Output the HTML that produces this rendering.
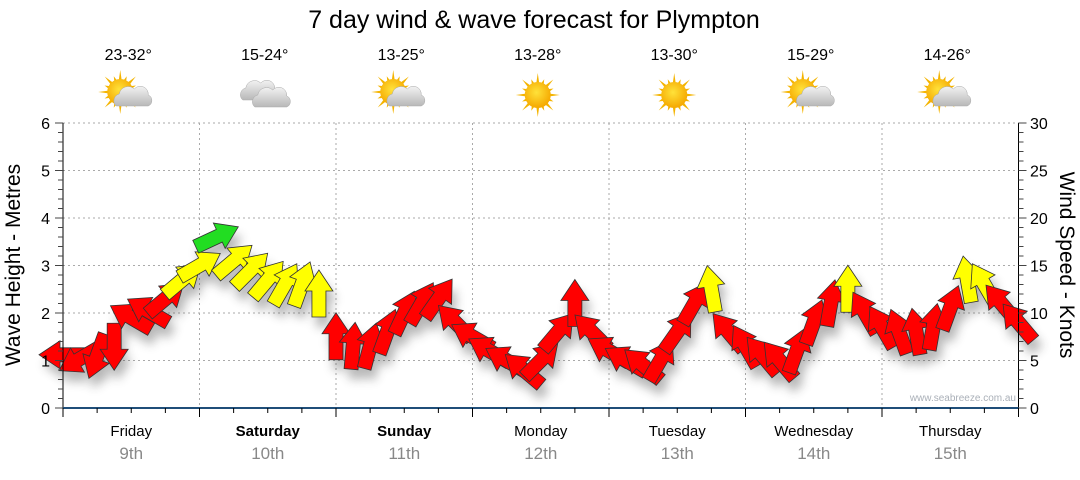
<!DOCTYPE html>
<html><head><meta charset="utf-8">
<style>
body{margin:0;background:#fff;width:1080px;height:475px;overflow:hidden;font-family:"Liberation Sans",sans-serif}
svg text{font-family:"Liberation Sans",sans-serif}
</style></head>
<body>
<svg id="chart" width="1080" height="475" viewBox="0 0 1080 475" xmlns="http://www.w3.org/2000/svg">
<defs>
<filter id="sh" x="-50%" y="-50%" width="200%" height="200%"><feGaussianBlur stdDeviation="5"/></filter>
<radialGradient id="sun" cx="0.45" cy="0.4" r="0.6"><stop offset="0" stop-color="#ffe23a"/><stop offset="1" stop-color="#f5a800"/></radialGradient>
<linearGradient id="cloud" x1="0" y1="0" x2="0" y2="1"><stop offset="0" stop-color="#f2f2f2"/><stop offset="1" stop-color="#b8b8b8"/></linearGradient>
</defs>
<text x="534" y="28" font-size="25" text-anchor="middle" fill="#000">7 day wind &amp; wave forecast for Plympton</text>
<g id="grid"></g>
<g id="shadows" filter="url(#sh)" opacity="0.35"></g>
<g id="arrows"></g>
<g id="axes"></g>
<g id="days"></g>
<text x="1016" y="401" font-size="10" text-anchor="end" fill="#aab0b8">www.seabreeze.com.au</text>
<text transform="translate(20,265) rotate(-90)" font-size="21" text-anchor="middle">Wave Height - Metres</text>
<text transform="translate(1060,265) rotate(90)" font-size="21" text-anchor="middle">Wind Speed - Knots</text>
</svg>
<script>
const dayNames=["Friday","Saturday","Sunday","Monday","Tuesday","Wednesday","Thursday"];
const dayDates=["9th","10th","11th","12th","13th","14th","15th"];
const boldDays=[false,true,true,false,false,false,false];
const temps=["23-32°","15-24°","13-25°","13-28°","13-30°","15-29°","14-26°"];
const icons=["partly","cloudy","partly","sunny","sunny","partly","partly"];
const waveTicks=[0,1,2,3,4,5,6];
const windTicks=[0,5,10,15,20,25,30];
// wind every 3 hours (57 points), knots and pointing direction (deg, 0=up, clockwise)
const windSpeed=[5.6,5.2,5.5,6.5,9.5,10.2,11.5,13.5, 15,18,15.5,14.5,13.5,13,13,12, 7.5,6.5,6.5,8,10,11,11.5,9, 7.5,6,5,4,5,8,11,8, 6,5,4.5,5,8,11,12.5,8, 6.5,5.5,5,6,9,11,12.5,10, 8.5,8,8,8.5,10.5,13.5,13,11,9];
const windDir=[270,240,200,180,300,300,50,50, 60,65,50,45,40,30,20,0, 0,5,15,20,25,30,35,315, 300,300,300,310,45,40,0,315, 300,300,310,30,35,30,350,320, 330,320,320,20,20,10,0,330, 330,340,350,10,20,350,330,320,320];

const NS="http://www.w3.org/2000/svg";
const X0=63,X1=1018.5,Y0=408,Y1=123;
const dayW=(X1-X0)/7;
const yW=v=>Y0-(v/6)*(Y0-Y1);
const yK=v=>Y0-(v/30)*(Y0-Y1);
const xT=h=>X0+h/24*dayW;
function mk(tag,attrs,parent){const e=document.createElementNS(NS,tag);for(const k in attrs)e.setAttribute(k,attrs[k]);parent.appendChild(e);return e;}
const grid=document.getElementById('grid'),axes=document.getElementById('axes'),days=document.getElementById('days');
waveTicks.forEach(t=>{if(t>0){const l=mk('line',{x1:X0,x2:X1,y1:yW(t),y2:yW(t),stroke:'#aaa','stroke-dasharray':'2,3'},grid);

}});
for(let d=1;d<7;d++){const l=mk('line',{x1:X0+d*dayW,x2:X0+d*dayW,y1:Y1,y2:Y0,stroke:'#aaa','stroke-dasharray':'2,3'},grid);

}
mk('line',{x1:X0,x2:X0,y1:Y1,y2:Y0,stroke:'#000'},axes);
mk('line',{x1:X1,x2:X1,y1:Y1,y2:Y0,stroke:'#000'},axes);
mk('line',{x1:X0,x2:X1,y1:Y0,y2:Y0,stroke:'#1f4e79','stroke-width':2},axes);
for(let i=0;i<=30;i++){const y=Y0-i/30*(Y0-Y1);const major=i%5==0;
mk('line',{x1:X0-(major?8:5),x2:X0,y1:y,y2:y,stroke:'#444'},axes);
mk('line',{x1:X1,x2:X1+(major?8:5),y1:y,y2:y,stroke:'#444'},axes);}
waveTicks.forEach(t=>{const e=mk('text',{x:50,y:yW(t)+6,'font-size':16,'text-anchor':'end'},axes);e.textContent=t;

});
windTicks.forEach(t=>{const e=mk('text',{x:1030,y:yK(t)+6,'font-size':16},axes);e.textContent=t;

});
for(let q=0;q<=28;q++){const x=X0+q*dayW/4;mk('line',{x1:x,x2:x,y1:Y0,y2:Y0+(q%4==0?9:5),stroke:'#000'},axes);}
function icon(kind,cx,cy,g){
 if(kind!=='cloudy'){const sx=kind==='sunny'?cx:cx-8,sy=kind==='sunny'?cy:cy-3;
  for(let a=0;a<360;a+=22.5){const r=a*Math.PI/180,L=(a/22.5)%2?17:22;mk('polygon',{points:`${sx+Math.cos(r)*L},${sy+Math.sin(r)*L} ${sx+Math.cos(r+0.12)*12},${sy+Math.sin(r+0.12)*12} ${sx+Math.cos(r-0.12)*12},${sy+Math.sin(r-0.12)*12}`,fill:'#f4b400'},g);}
  mk('circle',{cx:sx,cy:sy,r:13,fill:'url(#sun)'},g);}
 function cloud(x,y,s){mk('path',{d:`M${x-16*s},${y+8*s} a7 7 0 0 1 3,-12 a9 9 0 0 1 15,-5 a8 8 0 0 1 14,6 a6 6 0 0 1 0,11 z`,fill:'url(#cloud)',stroke:'#aaa','stroke-width':0.5},g);}
 if(kind==='partly')cloud(cx+4,cy+3,1);
 if(kind==='cloudy'){cloud(cx-6,cy-3,1);cloud(cx+6,cy+4,1);}
}
for(let d=0;d<7;d++){const cx=X0+(d+0.5)*dayW;
 const n=mk('text',{x:cx,y:436,'font-size':15,'text-anchor':'middle','font-weight':boldDays[d]?'bold':'normal'},days);n.textContent=dayNames[d];
 
 
 const dt=mk('text',{x:cx,y:459,'font-size':17,'text-anchor':'middle',fill:'#888'},days);dt.textContent=dayDates[d];
 
 
 const t=mk('text',{x:cx-3,y:60,'font-size':16,'text-anchor':'middle'},days);t.textContent=temps[d];
 
 
 const g=mk('g',{},days);
 
 
 icon(icons[d],cx-3,95,g);}
const arrG=document.getElementById('arrows'),shG=document.getElementById('shadows');
const shape="M-7,23 L7,23 L7,-3 L14,-3 L0,-24 L-14,-3 L-7,-3 Z";
windSpeed.forEach((v,i)=>{const x=xT(i*3),y=yK(v);
 const col=v>=17?'#22dd22':(v>=12?'#ffff00':'#ff0000');
 mk('path',{d:shape,transform:`translate(${x+4},${y+10}) rotate(${windDir[i]})`,fill:'#333'},shG);
 const a=mk('path',{d:shape,transform:`translate(${x},${y}) rotate(${windDir[i]})`,fill:col,stroke:'#333','stroke-width':0.8},arrG);
 
 });
</script>
</body></html>
